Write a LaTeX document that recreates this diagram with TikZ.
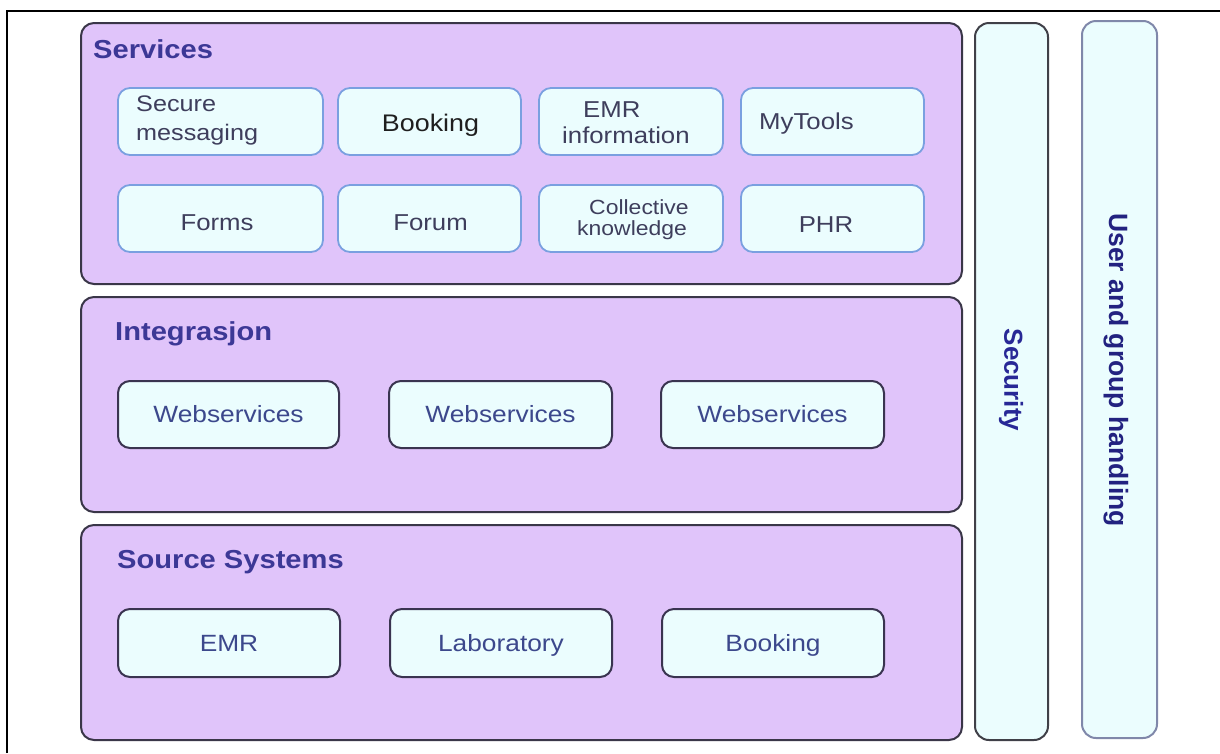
\documentclass[tikz,border=0pt]{standalone}
\usepackage{fontspec}
\setmainfont{Liberation Sans}[FakeStretch=1.12]
\newfontfamily\uprightsans{Liberation Sans}

\definecolor{layerfill}{RGB}{224,196,250}
\definecolor{layerline}{RGB}{58,54,72}
\definecolor{boxfill}{RGB}{235,253,254}
\definecolor{svcline}{RGB}{122,160,224}
\definecolor{modline}{RGB}{58,52,80}
\definecolor{titletext}{RGB}{60,56,150}
\definecolor{svctext}{RGB}{62,62,92}
\definecolor{modtext}{RGB}{60,72,140}
\definecolor{sectext}{RGB}{40,40,150}
\definecolor{usercolline}{RGB}{128,136,170}
\definecolor{userline}{RGB}{64,64,72}

\begin{document}
\begin{tikzpicture}[x=1pt,y=-1pt,
  layer/.style={draw=layerline, fill=layerfill, line width=2pt, rounded corners=13pt, inner sep=0pt},
  svcbox/.style={draw=svcline, fill=boxfill, line width=1.8pt, rounded corners=12pt,
    minimum height=67pt, inner sep=0pt},
  svclabel/.style={text=svctext, inner sep=0pt, font=\fontsize{23}{27}\selectfont},
  modbox/.style={draw=modline, fill=boxfill, line width=2pt, rounded corners=12pt,
    minimum width=222pt, minimum height=67pt, inner sep=0pt, text=modtext,
    font=\fontsize{23.5}{27}\selectfont, text height=16.8pt, text depth=0pt},
  column/.style={fill=boxfill, line width=2pt, rounded corners=14pt,
    minimum height=717pt, inner sep=0pt},
  layertitle/.style={text=titletext, inner sep=0pt, font=\bfseries\fontsize{26}{30}\selectfont},
  sidetext/.style={inner sep=0pt, rotate=-90, font=\uprightsans\bfseries\fontsize{26.5}{30}\selectfont}
]
\useasboundingbox (0,0) rectangle (1220,753);
\fill[white] (0,0) rectangle (1220,753);

% page frame (top and left edges)
\draw[line width=2.5pt] (7,753) -- (7,11) -- (1220,11);

% ---------------- layers ----------------
\node[layer, minimum width=881pt, minimum height=261pt] (services) at (521.5,153.5) {};
\node[layer, minimum width=881pt, minimum height=215pt] (integration) at (521.5,404.5) {};
\node[layer, minimum width=881pt, minimum height=215pt] (sources) at (521.5,632.5) {};

\node[layertitle, anchor=base west] (servicestitle) at (93,58) {Services};
\node[layertitle, anchor=base west] (integrationtitle) at (115,340) {Integrasjon};
\node[layertitle, anchor=base west] (sourcestitle) at (117,568) {Source Systems};

% ---------------- services ----------------
\node[svcbox, minimum width=205pt] (securemsg) at (220.5,121.5) {};
\node[svcbox, minimum width=183pt] (bookingsvc) at (429.5,121.5) {};
\node[svcbox, minimum width=184pt] (emrinfo) at (631,121.5) {};
\node[svcbox, minimum width=183pt] (mytools) at (832.5,121.5) {};
\node[svcbox, minimum width=205pt] (forms) at (220.5,218.5) {};
\node[svcbox, minimum width=183pt] (forum) at (429.5,218.5) {};
\node[svcbox, minimum width=184pt] (collective) at (631,218.5) {};
\node[svcbox, minimum width=183pt] (phr) at (832.5,218.5) {};

\node[svclabel, anchor=north west, align=left, font=\fontsize{22.5}{29}\selectfont]
  (securemsgtext) at (136,96) {Secure\\messaging};
\node[svclabel, anchor=base, text=black!88, font=\fontsize{24}{27}\selectfont]
  (bookingsvctext) at (430.5,131) {Booking};
\node[svclabel, anchor=north west, align=left, font=\fontsize{23}{26}\selectfont]
  (emrinfotext) at (562,101.5) {\hspace*{21pt}EMR\\information};
\node[svclabel, anchor=base west] (mytoolstext) at (759,129) {MyTools};
\node[svclabel, anchor=base] (formstext) at (217,230) {Forms};
\node[svclabel, anchor=base] (forumtext) at (430.5,230) {Forum};
\node[svclabel, anchor=north west, align=left, font=\fontsize{20.5}{21}\selectfont]
  (collectivetext) at (577,199) {\hspace*{12pt}Collective\\knowledge};
\node[svclabel, anchor=base] (phrtext) at (826,232) {PHR};

% ---------------- integration ----------------
\node[modbox, minimum width=221pt] (ws1) at (228.5,414.5) {Webservices};
\node[modbox, minimum width=223pt] (ws2) at (500.5,414.5) {Webservices};
\node[modbox, minimum width=223pt] (ws3) at (772.5,414.5) {Webservices};

% ---------------- source systems ----------------
\node[modbox, minimum width=222pt, minimum height=68pt] (emr) at (229,643) {EMR};
\node[modbox, minimum width=222pt, minimum height=68pt] (lab) at (501,643) {Laboratory};
\node[modbox, minimum width=222pt, minimum height=68pt] (bookingsrc) at (773,643) {Booking};

% ---------------- cross-cutting columns ----------------
\node[column, draw=userline, minimum width=73pt] (security) at (1011.5,381.5) {};
\node[column, draw=usercolline, minimum width=75pt] (usergroup) at (1119.5,379.5) {};

\node[sidetext, text=sectext, font=\uprightsans\bfseries\fontsize{26}{30}\selectfont]
  (securitytext) at (1011,380) {Security};
\node[sidetext, text=sectext!85!black] (usergrouptext) at (1116,370) {User and group handling};
\end{tikzpicture}
\end{document}
